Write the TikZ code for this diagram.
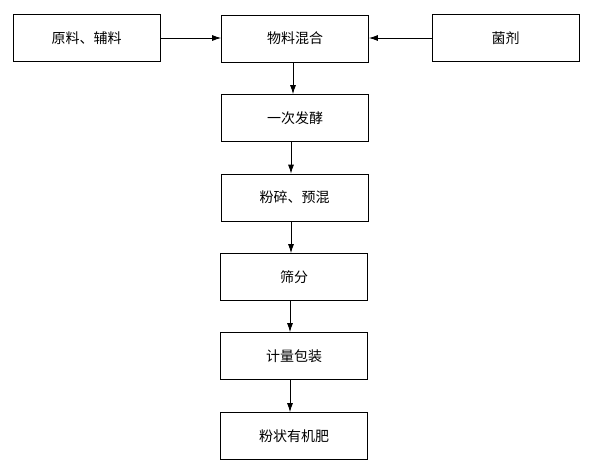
\documentclass[tikz,border=0pt]{standalone}
\usepackage{fontspec}
\newfontfamily\cjk{Noto Sans CJK SC}
\usetikzlibrary{arrows.meta}
\begin{document}
\begin{tikzpicture}[x=1pt,y=-1pt,
  stepbox/.style={draw,line width=0.8pt,minimum width=147pt,minimum height=47pt,inner sep=0pt,font=\cjk\fontsize{14}{16}\selectfont},
  arr/.style={line width=0.8pt,-{Latex[length=9pt,width=6pt]}}]
\useasboundingbox[fill=white] (0,0) rectangle (593,475);
\node[stepbox] (raw) at (86.5,38) {原料、辅料};
\node[stepbox] (mix) at (295,38.5) {物料混合};
\node[stepbox] (bac) at (505.5,38) {菌剂};
\node[stepbox] (fer) at (295,118) {一次发酵};
\node[stepbox] (cru) at (294.5,197.5) {粉碎、预混};
\node[stepbox] (sie) at (294,277) {筛分};
\node[stepbox] (pack) at (294,356) {计量包装};
\node[stepbox] (prod) at (294,436) {粉状有机肥};
\draw[arr] (raw.east) -- (mix.west |- raw.east);
\draw[arr] (bac.west) -- (mix.east |- bac.west);
\draw[arr] ([xshift=-2pt]mix.south) -- ([xshift=-2pt]fer.north);
\draw[arr] ([xshift=-4pt]fer.south) -- ([xshift=-3.5pt]cru.north);
\draw[arr] ([xshift=-3.5pt]cru.south) -- ([xshift=-3pt]sie.north);
\draw[arr] ([xshift=-4pt]sie.south) -- ([xshift=-4pt]pack.north);
\draw[arr] ([xshift=-4pt]pack.south) -- ([xshift=-4pt]prod.north);
\end{tikzpicture}
\end{document}
